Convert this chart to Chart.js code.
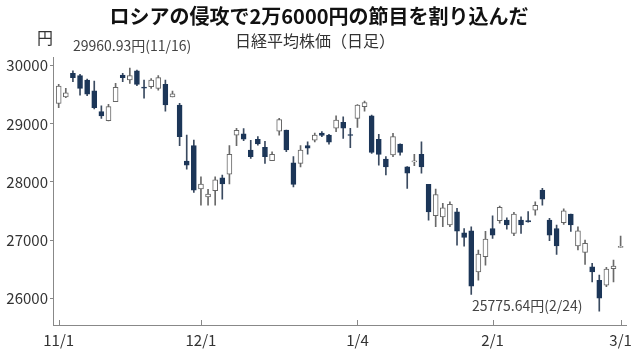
<!DOCTYPE html>
<html><head><meta charset="utf-8">
<script src="https://cdn.jsdelivr.net/npm/chart.js@4"></script>
<style>html,body{margin:0;padding:0;background:#fff}#wrap{width:638px;height:357px}</style>
</head><body><div id="wrap"><canvas id="c" width="638" height="357"></canvas></div>
<script>
const dates = ['11/1','11/2','11/4','11/5','11/8','11/9','11/10','11/11','11/12','11/15','11/16','11/17','11/18','11/19','11/22','11/24','11/25','11/26','11/29','11/30',
'12/1','12/2','12/3','12/6','12/7','12/8','12/9','12/10','12/13','12/14','12/15','12/16','12/17','12/20','12/21','12/22','12/23','12/24','12/27','12/28','12/29','12/30',
'1/4','1/5','1/6','1/7','1/11','1/12','1/13','1/14','1/17','1/18','1/19','1/20','1/21','1/24','1/25','1/26','1/27','1/28','1/31',
'2/1','2/2','2/3','2/4','2/7','2/8','2/9','2/10','2/14','2/15','2/16','2/17','2/18','2/21','2/22','2/24','2/25','2/28','3/1'];
const opens = [29350,29465,29870,29830,29755,29570,29210,29055,29380,29840,29755,29910,29625,29640,29610,29680,29465,29325,28360,28625,
27880,27745,27850,28070,28135,28805,28830,28550,28735,28595,28365,28875,28895,28330,28320,28625,28720,28840,28805,28925,29025,28810,
29095,29295,29140,28735,28395,28465,28650,28260,28345,28475,27960,27420,27400,27260,27485,27125,27160,26455,26715,
27200,27335,27345,27115,27345,27335,27515,27860,27345,27200,27300,27450,26900,26790,26540,26310,26225,26510,26875];
const highs = [29680,29610,29910,29850,29770,29735,29310,29335,29695,29870,29961,29925,29755,29780,29830,29755,29565,29355,28805,28720,
28090,27875,28090,28120,28625,28925,28920,28715,28780,28700,28520,29095,28895,28435,28625,28690,28840,28865,28820,29140,29120,28925,
29330,29390,29150,28820,28435,28835,28655,28265,28475,28690,27960,27880,27635,27660,27545,27200,27230,26830,27150,
27420,27585,27385,27480,27400,27490,27660,27890,27375,27260,27540,27450,27230,27000,26600,26400,26530,26655,27070];
const lows = [29280,29450,29725,29495,29485,29255,29095,29050,29380,29725,29695,29655,29440,29610,29580,29220,29465,28625,28220,27820,
27600,27600,27600,27705,27965,28625,28710,28405,28635,28320,28365,28805,28520,27915,28260,28480,28690,28780,28650,28865,28750,28590,
28940,29220,28490,28290,28120,28435,28460,27890,28280,28150,27345,27230,27230,27230,26915,26895,26065,26310,26570,
27030,27290,27190,27075,27115,27310,27430,27600,26990,26755,27270,27150,26830,26580,26280,25776,26200,26280,26875];
const closes = [29650,29535,29795,29610,29510,29280,29135,29295,29630,29795,29830,29680,29615,29755,29795,29325,29515,28780,28290,27860,
27965,27790,28035,27965,28475,28890,28735,28435,28655,28435,28475,29075,28550,27960,28550,28580,28805,28800,28685,29065,28925,28800,
29325,29365,28510,28475,28260,28780,28510,28150,28360,28260,27485,27785,27555,27615,27155,27045,26210,26760,27020,
27085,27565,27260,27450,27260,27315,27600,27705,27085,26900,27505,27260,27160,26945,26455,26000,26500,26555,26885];
const yTicks = [26000,27000,28000,29000,30000];
const xTickLabels = ['11/1','12/1','1/4','2/1','3/1'];
const titleText = 'ロシアの侵攻で2万6000円の節目を割り込んだ';
const subtitleText = '日経平均株価（日足）';
const unitText = '円';
const highNote = '29960.93円(11/16)';
const lowNote = '25775.64円(2/24)';

const DARK = '#1c3658';
const FONT = "'Noto Sans CJK JP', 'Noto Sans', sans-serif";
const isUp = i => closes[i] >= opens[i];

const textPlugin = {
  id: 'texts',
  afterDraw(chart) {
    const ctx = chart.ctx;
    const xs = chart.scales.x;
    ctx.save();
    ctx.strokeStyle = '#888'; ctx.lineWidth = 1;
    xTickLabels.forEach(l => {
      const px = Math.round(xs.getPixelForValue(dates.indexOf(l))) + 0.5;
      ctx.beginPath(); ctx.moveTo(px, chart.chartArea.bottom); ctx.lineTo(px, chart.chartArea.bottom - 5); ctx.stroke();
    });
    ctx.textBaseline = 'middle';
    ctx.fillStyle = '#111';
    ctx.font = "bold 20px " + FONT;
    ctx.textAlign = 'center';
    ctx.fillText(titleText, 319, 16);
    ctx.fillStyle = '#333';
    ctx.font = "16px " + FONT;
    ctx.fillText(subtitleText, 315, 41);
    ctx.textAlign = 'left';
    ctx.fillText(unitText, 37, 38);
    ctx.fillStyle = '#444';
    ctx.font = "14px " + FONT;
    ctx.fillText(highNote, 73, 46);
    ctx.fillText(lowNote, 472, 306);
    ctx.restore();
  }
};

new Chart(document.getElementById('c'), {
  type: 'bar',
  data: {
    datasets: [
      {
        label: 'body',
        data: dates.map((d, i) => ({x: i, y: [opens[i], closes[i]]})),
        backgroundColor: dates.map((d, i) => isUp(i) ? '#ffffff' : DARK),
        borderColor: dates.map((d, i) => isUp(i) ? '#666666' : DARK),
        borderWidth: 1,
        borderSkipped: false,
        barThickness: 5,
        minBarLength: 1,
        grouped: false,
        order: 0
      },
      {
        label: 'wick',
        data: dates.map((d, i) => ({x: i, y: [lows[i], highs[i]]})),
        backgroundColor: dates.map((d, i) => isUp(i) ? '#6a6a6a' : '#3a4a60'),
        borderWidth: 0,
        barThickness: 1,
        grouped: false,
        order: 1
      }
    ]
  },
  options: {
    responsive: false,
    animation: false,
    devicePixelRatio: 1,
    layout: {padding: {left: 0, top: 57, right: 11, bottom: 0}},
    plugins: {legend: {display: false}, tooltip: {enabled: false}, title: {display: false}},
    scales: {
      x: {
        type: 'linear',
        offset: false,
        min: -0.8, max: 79.85,
        afterBuildTicks: s => { s.ticks = xTickLabels.map(l => ({value: dates.indexOf(l)})); },
        afterFit: s => { s.height = 32; },
        ticks: {callback: v => dates[v], color: '#333', font: {family: FONT, size: 15}, padding: 6, maxRotation: 0, autoSkip: false},
        grid: {display: true, offset: false, drawOnChartArea: false, drawTicks: false},
        border: {display: true, color: '#888', width: 1}
      },
      y: {
        min: 25540, max: 30150,
        afterBuildTicks: s => { s.ticks = yTicks.map(v => ({value: v})); },
        afterFit: s => { s.width = 53; },
        ticks: {callback: v => String(v), color: '#333', font: {family: FONT, size: 15}, padding: 2},
        grid: {display: true, drawOnChartArea: false, drawTicks: true, tickLength: 3, color: '#888'},
        border: {display: true, color: '#888', width: 1}
      }
    }
  },
  plugins: [textPlugin]
});
</script>
</body></html>
